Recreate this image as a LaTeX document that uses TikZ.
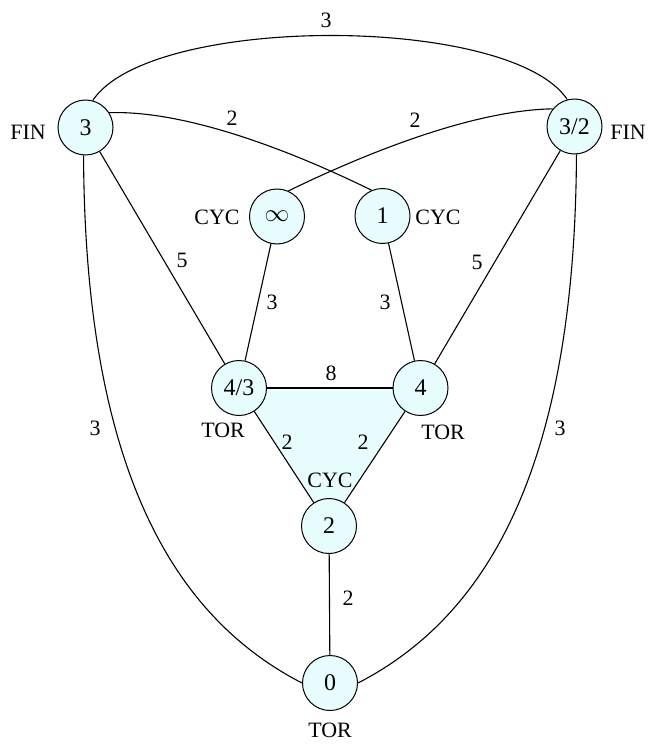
\documentclass[tikz,border=0pt]{standalone}
\usepackage{fontspec}
\setmainfont{Liberation Serif}
\usetikzlibrary{backgrounds}
\definecolor{nodefill}{RGB}{232,253,253}
\begin{document}
\begin{tikzpicture}[x=1bp,y=-1bp,
  vert/.style={circle,draw,line width=1bp,fill=nodefill,minimum size=55bp,inner sep=0pt,font=\fontsize{24}{28}\selectfont},
  lab/.style={font=\fontsize{22}{26}\selectfont,inner sep=0pt},
  edge/.style={line width=1.1bp}]
\useasboundingbox (0,0) rectangle (649,745);
% vertices
\node[vert] (n3)   at (85.5,127.5) {3};
\node[vert] (n32)  at (574.5,126.5) {3/2};
\node[vert] (ninf) at (277,216.5) {$\infty$};
\node[vert] (n1)   at (382.5,216) {1};
\node[vert] (n43)  at (239,388) {4/3};
\node[vert] (n4)   at (420.5,388) {4};
\node[vert] (n2)   at (329,526) {2};
\node[vert] (n0)   at (330,683) {0};
% shaded triangle
\begin{scope}[on background layer]
\fill[nodefill] (n43.center) -- (n4.center) -- (n2.center) -- cycle;
\end{scope}
% type labels
\node[lab] (t3)   at (28,132) {FIN};
\node[lab] (t32)  at (628,132) {FIN};
\node[lab] (tinf) at (217,217) {CYC};
\node[lab] (t1)   at (438,217) {CYC};
\node[lab] (t43)  at (223,430) {TOR};
\node[lab] (t4)   at (443,432) {TOR};
\node[lab] (t2)   at (330,480) {CYC};
\node[lab] (t0)   at (330,730) {TOR};
% edges
\draw[edge] (n3.75) .. controls (150,14) and (510,14) .. (n32.105);
\draw[edge] (n3.32) .. controls (190,110) and (300,155) .. (n1.113);
\draw[edge] (n32.141) .. controls (472,110) and (362,155) .. (ninf.66);
\draw[edge] (n3.-94) .. controls (85,480) and (180,620) .. (n0.180);
\draw[edge] (n32.-86) .. controls (575,480) and (480,620) .. (n0.0);
\draw[edge] (n3) -- (n43);
\draw[edge] (n32) -- (n4);
\draw[edge] (ninf) -- (n43);
\draw[edge] (n1) -- (n4);
\draw[edge] (n43) -- (n4);
\draw[edge] (n43) -- (n2);
\draw[edge] (n4) -- (n2);
\draw[edge] (n2) -- (n0);
% edge labels
\node[lab] (e1)  at (326,20) {3};
\node[lab] (e2)  at (232,118) {2};
\node[lab] (e3)  at (415,120) {2};
\node[lab] (e4)  at (182,260) {5};
\node[lab] (e5)  at (477,262) {5};
\node[lab] (e6)  at (272,302) {3};
\node[lab] (e7)  at (385,302) {3};
\node[lab] (e8)  at (331,373) {8};
\node[lab] (e9)  at (287,442) {2};
\node[lab] (e10) at (363,442) {2};
\node[lab] (e11) at (348,598) {2};
\node[lab] (e12) at (95,428) {3};
\node[lab] (e13) at (560,428) {3};
\end{tikzpicture}
\end{document}
